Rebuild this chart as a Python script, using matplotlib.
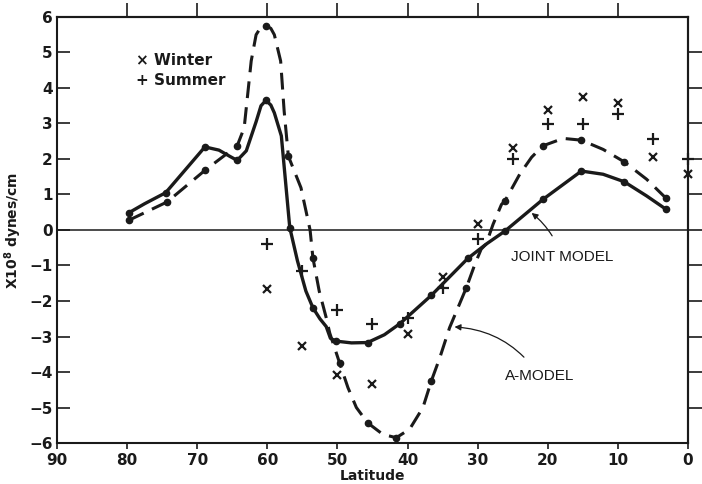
import matplotlib
matplotlib.use("Agg")
import matplotlib.pyplot as plt
import numpy as np

# ---- data ----
# Joint model (solid curve) vertices, latitude / value (x10^8 dynes/cm)
joint_lat = [79.8, 77.5, 74.5, 68.9, 66.9, 65.4, 64.3, 63.0, 61.6, 60.9, 60.2, 59.5, 59.0, 58.0,
             56.8, 55.7, 54.5, 53.5, 52.5, 51.6, 51.0, 50.2, 48.0, 45.7, 43.3, 41.1,
             36.6, 31.4, 28.8, 26.1, 20.7, 15.2, 12.1, 9.1, 5.9, 3.1]
joint_val = [0.48, 0.74, 1.05, 2.34, 2.25, 2.08, 1.96, 2.23, 3.05, 3.5, 3.65, 3.52, 3.3, 2.65,
             0.07, -0.87, -1.72, -2.19, -2.5, -2.72, -3.05, -3.13, -3.18, -3.17, -2.95, -2.64,
             -1.84, -0.8, -0.4, -0.03, 0.86, 1.66, 1.57, 1.36, 0.96, 0.58]
joint_dot_lat = [79.8, 74.5, 68.9, 64.3, 60.2, 56.8, 53.5, 50.2, 45.7, 41.1, 36.6, 31.4,
                 26.1, 20.7, 15.2, 9.1, 3.1]
joint_dot_val = [0.48, 1.05, 2.34, 1.96, 3.65, 0.07, -2.19, -3.13, -3.17, -2.64, -1.84, -0.8,
                 -0.03, 0.86, 1.66, 1.36, 0.58]

# A-model (dashed curve) vertices
amod_lat = [79.8, 74.3, 68.9, 64.3, 63.3, 62.3, 61.6, 60.9, 60.2, 59.5, 59.0, 58.1, 57.6, 57.0,
            55.2, 53.9, 53.5, 52.6, 51.6, 51.1, 49.7, 48.5, 47.3, 45.7, 43.5, 41.6,
            39.7, 37.8, 36.6, 35.4, 34.0, 31.6, 30.4, 29.5, 28.8, 27.8, 26.6, 26.1,
            24.0, 22.3, 20.7, 17.8, 15.2, 12.1, 9.1, 5.9, 3.1]
amod_val = [0.27, 0.79, 1.68, 2.37, 2.88, 4.76, 5.5, 5.72, 5.75, 5.68, 5.5, 4.76, 3.35, 2.08,
            1.19, 0.0, -0.78, -1.72, -2.47, -2.9, -3.74, -4.44, -5.0, -5.43, -5.76, -5.85,
            -5.61, -5.0, -4.25, -3.6, -2.75, -1.62, -0.97, -0.54, -0.4, 0.16, 0.72, 0.82,
            1.57, 2.05, 2.37, 2.58, 2.53, 2.27, 1.92, 1.43, 0.89]
amod_dot_lat = [79.8, 74.3, 68.9, 64.3, 60.2, 57.0, 53.5, 49.7, 45.7, 41.6, 36.6, 31.6,
                26.1, 20.7, 15.2, 9.1, 3.1]
amod_dot_val = [0.27, 0.79, 1.68, 2.37, 5.75, 2.08, -0.78, -3.74, -5.43, -5.85, -4.25, -1.62,
                0.82, 2.37, 2.53, 1.92, 0.89]

# Observations
obs_lat = [60, 55, 50, 45, 40, 35, 30, 25, 20, 15, 10, 5, 0]
winter = [-1.67, -3.27, -4.08, -4.33, -2.94, -1.32, 0.18, 2.32, 3.37, 3.75, 3.57, 2.06, 1.59]
summer = [-0.40, -1.15, -2.26, -2.66, -2.47, -1.62, -0.26, 1.99, 2.99, 2.98, 3.26, 2.55, 1.99]

x_ticks = [90, 80, 70, 60, 50, 40, 30, 20, 10, 0]
y_ticks = [-6, -5, -4, -3, -2, -1, 0, 1, 2, 3, 4, 5, 6]

# ---- figure ----
plt.rcParams['font.family'] = ['DejaVu Sans']
fig = plt.figure(figsize=(7.02, 4.84), dpi=100)
ax = fig.add_axes([0.0812, 0.0847, 0.8988, 0.8802])
ax.set_xlim(90, 0)
ax.set_ylim(-6, 6)

ink = '#1a1a1a'
ax.axhline(0, color=ink, lw=1.1, zorder=1)

ax.plot(joint_lat, joint_val, color=ink, lw=2.4, solid_capstyle='round',
        solid_joinstyle='round', zorder=3)
ax.plot(joint_dot_lat, joint_dot_val, 'o', color=ink, ms=4.5, zorder=4)
ax.plot(amod_lat, amod_val, color=ink, lw=2.2, dashes=(5.5, 3.0), zorder=3)
ax.plot(amod_dot_lat, amod_dot_val, 'o', color=ink, ms=4.5, zorder=4)

ax.plot(obs_lat, winter, 'x', color=ink, ms=6, mew=1.6, clip_on=False, zorder=5)
ax.plot(obs_lat, summer, '+', color=ink, ms=8, mew=1.6, clip_on=False, zorder=5)

ax.text(78.8, 4.78, '× Winter', fontsize=11, fontweight='bold', color=ink,
        ha='left', va='center')
ax.text(78.8, 4.22, '+ Summer', fontsize=11, fontweight='bold', color=ink,
        ha='left', va='center')

ax.annotate('JOINT MODEL', xy=(22.3, 0.48), xytext=(18.0, -0.75),
            fontsize=11, color=ink, ha='center', va='center', family='Liberation Sans',
            arrowprops=dict(arrowstyle='-|>', color=ink, lw=0.9, mutation_scale=9,
                            shrinkA=9, shrinkB=0, connectionstyle='arc3,rad=0.15'))
ax.annotate('A-MODEL', xy=(33.3, -2.73), xytext=(21.2, -4.12),
            fontsize=11, color=ink, ha='center', va='center', family='Liberation Sans',
            arrowprops=dict(arrowstyle='-|>', color=ink, lw=0.9, mutation_scale=9,
                            shrinkA=9, shrinkB=0, connectionstyle='arc3,rad=0.25'))

ax.set_xticks(x_ticks)
ax.set_yticks(y_ticks)
ax.set_xticklabels([str(t) for t in x_ticks])
ax.set_yticklabels([str(t).replace('-', '\u2212') for t in y_ticks])
for lab in ax.get_xticklabels() + ax.get_yticklabels():
    lab.set_fontweight('bold')
    lab.set_fontsize(11)
ax.tick_params(axis='x', direction='out', length=4, width=1.2, pad=3, colors=ink)
ax.tick_params(axis='y', direction='in', length=9, width=1.2, pad=3, colors=ink)

top = ax.secondary_xaxis('top')
top.set_xticks(x_ticks[1:-1])
top.tick_params(direction='out', length=10, width=1.2, labeltop=False, colors=ink)
right = ax.secondary_yaxis('right')
right.set_yticks(y_ticks[1:-1])
right.tick_params(direction='out', length=10, width=1.2, labelright=False, colors=ink)
for sp in list(ax.spines.values()) + [top.spines['top'], right.spines['right']]:
    sp.set_linewidth(1.5)
    sp.set_color(ink)

ax.set_xlabel('Latitude', fontsize=10, fontweight='bold', labelpad=1, color=ink)
ax.set_ylabel('X10$^{\\mathbf{8}}$ dynes/cm', fontsize=10, fontweight='bold',
              labelpad=4, color=ink)

fig.savefig('out.png', dpi=100)
